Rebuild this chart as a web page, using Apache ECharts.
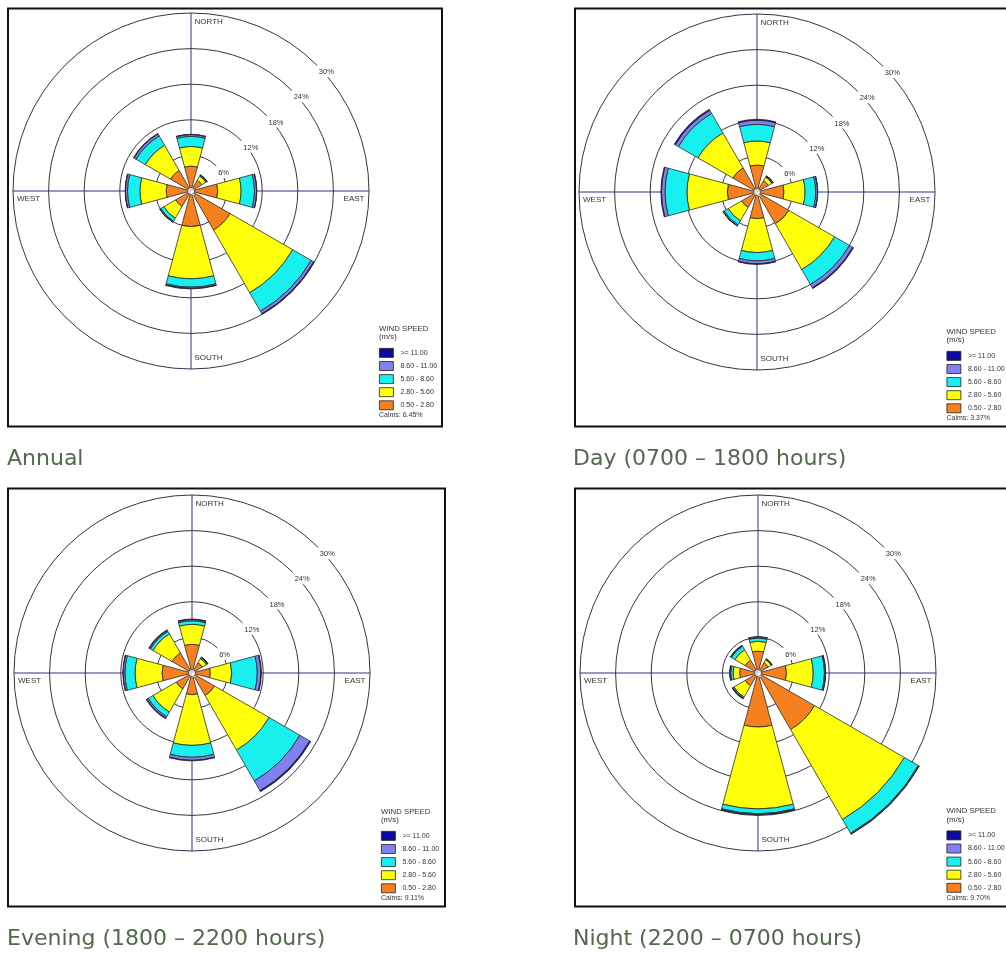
<!DOCTYPE html>
<html><head><meta charset="utf-8">
<script src="https://cdn.jsdelivr.net/npm/echarts@6/dist/echarts.min.js"></script>
<style>html,body{margin:0;padding:0;background:#fff}#c{width:1006px;height:954px}</style>
</head><body><div id="c"></div>
<script>
// ---------- data ----------
const directions = ['N', 'NE', 'E', 'SE', 'S', 'SW', 'W', 'NW'];
const speedClasses = ['0.50 - 2.80', '2.80 - 5.60', '5.60 - 8.60', '8.60 - 11.00', '>= 11.00'];
const ringTicks = [6, 12, 18, 24, 30];
const panelTitles = ['Annual', 'Day (0700 \u2013 1800 hours)', 'Evening (1800 \u2013 2200 hours)', 'Night (2200 \u2013 0700 hours)'];
const calms = ['6.45%', '3.37%', '9.11%', '9.70%'];

// Annual (% frequency per direction, per speed class)
const annual_050_280 = [4.2, 2.1, 4.5, 7.6, 6.0, 3.0, 4.2, 4.0];
const annual_280_560 = [3.3, 0.8, 3.95, 12.2, 8.8, 2.3, 4.4, 4.9];
const annual_560_860 = [1.7, 0.15, 2.25, 3.6, 1.4, 0.6, 2.1, 1.8];
const annual_860_1100 = [0.3, 0.1, 0.35, 0.5, 0.2, 0.15, 0.35, 0.4];
const annual_ge1100 = [0.05, 0.0, 0.05, 0.1, 0.1, 0.05, 0.05, 0.1];

// Day
const day_050_280 = [4.55, 2.2, 4.55, 6.2, 4.5, 3.0, 5.0, 4.7];
const day_280_560 = [4.05, 0.7, 3.55, 8.9, 5.7, 2.6, 6.8, 6.8];
const day_560_860 = [2.8, 0.15, 1.8, 2.9, 1.4, 0.8, 3.7, 3.8];
const day_860_1100 = [0.7, 0.1, 0.3, 0.65, 0.5, 0.2, 0.6, 0.6];
const day_ge1100 = [0.15, 0.0, 0.05, 0.15, 0.1, 0.05, 0.1, 0.2];

// Evening
const evening_050_280 = [4.85, 2.0, 3.1, 4.4, 3.65, 3.1, 5.05, 3.9];
const evening_280_560 = [3.35, 0.8, 3.6, 10.6, 8.55, 4.5, 4.55, 3.7];
const evening_560_860 = [0.6, 0.2, 4.3, 6.0, 2.0, 0.9, 1.7, 0.5];
const evening_860_1100 = [0.2, 0.1, 0.6, 1.9, 0.5, 0.3, 0.3, 0.2];
const evening_ge1100 = [0.1, 0.0, 0.1, 0.2, 0.1, 0.1, 0.05, 0.1];

// Night
const night_050_280 = [3.7, 2.0, 4.8, 11.0, 9.1, 2.5, 3.1, 2.5];
const night_280_560 = [1.65, 0.6, 4.5, 17.5, 13.8, 2.2, 1.1, 2.0];
const night_560_860 = [0.55, 0.1, 1.9, 2.7, 0.8, 0.2, 0.4, 0.7];
const night_860_1100 = [0.2, 0.05, 0.15, 0.15, 0.15, 0.1, 0.15, 0.15];
const night_ge1100 = [0.05, 0.0, 0.05, 0.05, 0.05, 0.05, 0.05, 0.05];

const panelData = [
  [annual_050_280, annual_280_560, annual_560_860, annual_860_1100, annual_ge1100],
  [day_050_280, day_280_560, day_560_860, day_860_1100, day_ge1100],
  [evening_050_280, evening_280_560, evening_560_860, evening_860_1100, evening_ge1100],
  [night_050_280, night_280_560, night_560_860, night_860_1100, night_ge1100]
];

// ---------- layout / style ----------
const R = 178;
const panels = [
  { frame: [8, 8.5, 434, 418], center: [191, 191], legend: [379, 328.5], caption: [7, 459] },
  { frame: [575, 8.5, 445, 418], center: [757, 192], legend: [946.5, 331.5], caption: [573, 459] },
  { frame: [8, 488.5, 437, 418], center: [192, 673], legend: [381, 811.5], caption: [7, 939] },
  { frame: [575, 488.5, 445, 418], center: [758, 673], legend: [946.5, 811], caption: [573, 939] }
];
const colors = ['#f7801e', '#ffff0a', '#18f0f0', '#8080f0', '#0c0ca0'];
const ringColor = '#34344a';
const crossColor = '#30308c';
const txt = '#333';
const FF = '"Liberation Sans", Arial, sans-serif';
const sectorDeg = 360 / directions.length;
const maxR = ringTicks[ringTicks.length - 1];

const polar = [], angleAxis = [], radiusAxis = [], series = [], legend = [], graphic = [];

// group A: wind-rose bars + rings
panels.forEach((p, i) => {
  polar.push({ center: p.center, radius: R });
  angleAxis.push({
    polarIndex: i, type: 'category', data: directions, startAngle: 90 + sectorDeg / 2, clockwise: true,
    boundaryGap: true, axisLine: { show: false }, axisTick: { show: false }, axisLabel: { show: false },
    splitLine: { show: false }
  });
  radiusAxis.push({
    polarIndex: i, type: 'value', min: 0, max: maxR, interval: ringTicks[0],
    axisLine: { show: false }, axisTick: { show: false }, axisLabel: { show: false },
    splitLine: { show: true, lineStyle: { color: ringColor, width: 1 } }
  });
});
// group B: ring labels along the NE diagonal
panels.forEach((p, i) => {
  polar.push({ center: p.center, radius: R });
  angleAxis.push({ polarIndex: 4 + i, type: 'value', min: 0, max: 360, startAngle: 45, show: false });
  radiusAxis.push({
    polarIndex: 4 + i, type: 'value', min: 0, max: maxR, interval: ringTicks[0], z: 5,
    axisLine: { show: false }, axisTick: { show: false }, splitLine: { show: false },
    axisLabel: {
      show: true, margin: 0, formatter: v => (v === 0 ? '' : v + '%'),
      fontSize: 7.5, fontFamily: FF, color: txt, backgroundColor: '#fff',
      padding: [3, 1, 1, 2], align: 'left', verticalAlign: 'top'
    }
  });
});
// group C: N-S / E-W cross lines
panels.forEach((p, i) => {
  polar.push({ center: p.center, radius: R });
  angleAxis.push({
    polarIndex: 8 + i, type: 'value', min: 0, max: 360, interval: 90, startAngle: 90, z: 1,
    axisLine: { show: false }, axisTick: { show: false }, axisLabel: { show: false },
    splitLine: { show: true, lineStyle: { color: crossColor, width: 1 } }
  });
  radiusAxis.push({
    polarIndex: 8 + i, type: 'value', min: 0, max: maxR, show: false,
    axisLine: { show: false }, axisTick: { show: false }, axisLabel: { show: false }, splitLine: { show: false }
  });
});

panels.forEach((p, i) => {
  panelData[i].forEach((vals, k) => {
    series.push({
      type: 'bar', coordinateSystem: 'polar', polarIndex: i, stack: 'rose' + i,
      name: speedClasses[k], data: vals, barWidth: '66.7%', clip: false, silent: true,
      itemStyle: { color: colors[k], borderColor: '#2a2a2a', borderWidth: 0.8 },
      emphasis: { disabled: true }
    });
  });
  series.push({
    type: 'scatter', coordinateSystem: 'polar', polarIndex: i, data: [[0, 0]], symbol: 'circle',
    symbolSize: 7, silent: true, z: 6,
    itemStyle: { color: '#fff', borderColor: '#333', borderWidth: 0.8 }
  });

  const [lx, ly] = p.legend;
  legend.push({
    left: lx, top: ly + 24 - 4.5, orient: 'vertical', padding: 0, itemWidth: 14, itemHeight: 9, itemGap: 3.3,
    icon: 'rect', selectedMode: false, data: speedClasses.slice().reverse(),
    itemStyle: { borderColor: '#222', borderWidth: 0.8 },
    textStyle: { fontSize: 7, fontFamily: FF, color: txt, padding: [0, 0, 0, 2] }
  });

  const [fx, fy, fw, fh] = p.frame;
  graphic.push({ type: 'rect', shape: { x: fx, y: fy, width: fw, height: fh }, style: { fill: 'none', stroke: '#111', lineWidth: 2 }, silent: true, z: 0 });

  const [cx, cy] = p.center;
  const compass = [
    ['NORTH', cx + 3.5, cy - R + 9, 'left'],
    ['SOUTH', cx + 3.5, cy + R - 11, 'left'],
    ['WEST', cx - R + 4, cy + 8, 'left'],
    ['EAST', cx + R - 4.5, cy + 8, 'right']
  ];
  compass.forEach(c => graphic.push({
    type: 'text', silent: true, z: 10,
    style: { text: c[0], x: c[1], y: c[2], fontSize: 8, fontFamily: FF, fill: txt, align: c[3], textAlign: c[3], verticalAlign: 'middle', textVerticalAlign: 'middle' }
  }));

  graphic.push({ type: 'text', silent: true, z: 10, style: { text: 'WIND SPEED', x: lx, y: ly, fontSize: 7.8, fontFamily: FF, fill: txt, verticalAlign: 'middle', textVerticalAlign: 'middle' } });
  graphic.push({ type: 'text', silent: true, z: 10, style: { text: '(m/s)', x: lx, y: ly + 8.5, fontSize: 7.8, fontFamily: FF, fill: txt, verticalAlign: 'middle', textVerticalAlign: 'middle' } });
  graphic.push({ type: 'text', silent: true, z: 10, style: { text: 'Calms: ' + calms[i], x: lx, y: ly + 87, fontSize: 7, fontFamily: FF, fill: txt, verticalAlign: 'middle', textVerticalAlign: 'middle' } });

  graphic.push({ type: 'text', silent: true, z: 10, style: { text: panelTitles[i], x: p.caption[0], y: p.caption[1], fontSize: 22, fontFamily: '"DejaVu Sans", sans-serif', fill: '#4f6b4a', verticalAlign: 'middle', textVerticalAlign: 'middle' } });
});

const chart = echarts.init(document.getElementById('c'), null, { renderer: 'canvas' });
chart.setOption({
  backgroundColor: '#fff',
  animation: false,
  polar, angleAxis, radiusAxis, series, legend, graphic
});
</script>
</body></html>
